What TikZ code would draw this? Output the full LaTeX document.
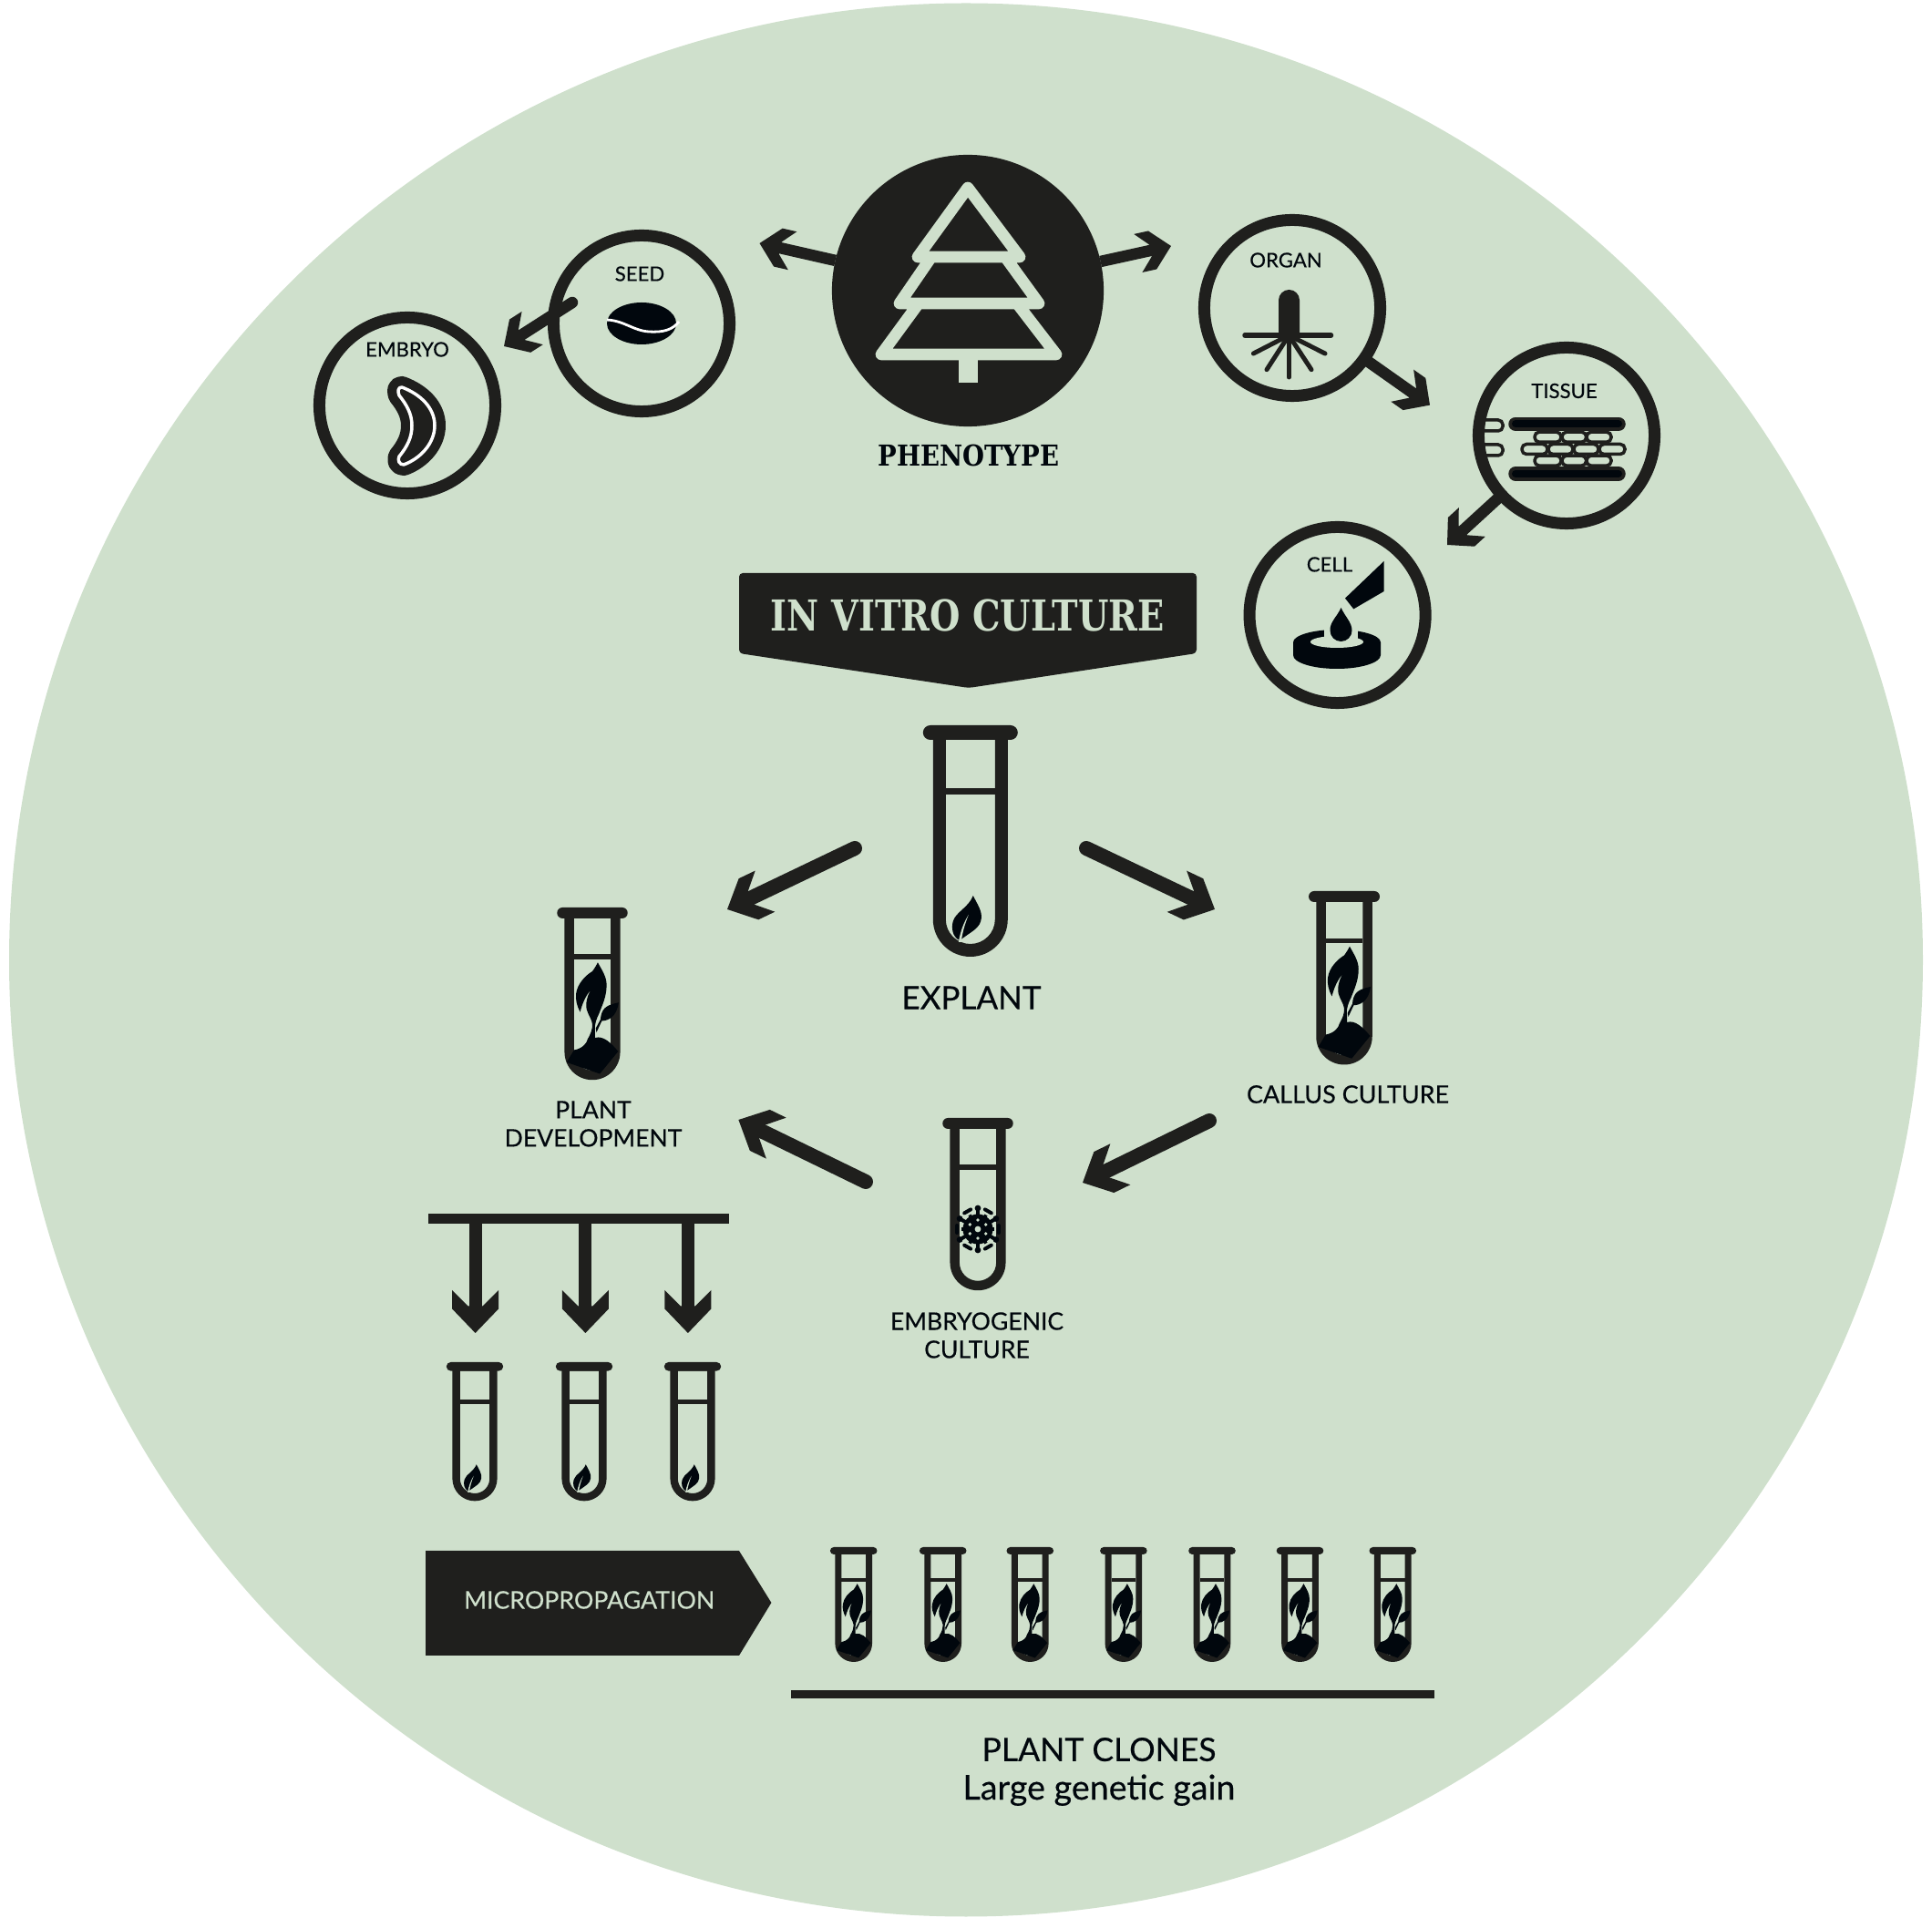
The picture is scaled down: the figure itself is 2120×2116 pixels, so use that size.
\documentclass[tikz,border=0pt]{standalone}
\usepackage{fontspec}
\setmainfont{Lato}[RawFeature={embolden=0.35}]
\newfontfamily\slabfont{DejaVu Serif}
\usetikzlibrary{arrows.meta,positioning,calc}
\definecolor{sage}{HTML}{CFE0CC}
\definecolor{ink}{HTML}{1F1F1D}
\definecolor{glyph}{HTML}{01070D}

% barbed head with cut ends
\pgfdeclarearrow{
	name=CutBarb,
	setup code={
		\pgfarrowssettipend{0pt}
		\pgfarrowssetlineend{-0.55\pgfarrowlength}
		\pgfarrowssetvisualbackend{-\pgfarrowlength}
		\pgfarrowssetbackend{-\pgfarrowlength}
		\pgfarrowshullpoint{0pt}{0pt}
		\pgfarrowsupperhullpoint{-\pgfarrowlength}{0.5\pgfarrowwidth}
		\pgfarrowssavethe\pgfarrowlength
		\pgfarrowssavethe\pgfarrowwidth
	},
	drawing code={
		\pgfpathmoveto{\pgfpointorigin}
		\pgfpathlineto{\pgfqpoint{-0.565\pgfarrowlength}{0.5\pgfarrowwidth}}
		\pgfpathlineto{\pgfqpoint{-\pgfarrowlength}{0.5\pgfarrowwidth}}
		\pgfpathlineto{\pgfqpoint{-0.63\pgfarrowlength}{0.16\pgfarrowwidth}}
		\pgfpathlineto{\pgfqpoint{-0.63\pgfarrowlength}{-0.16\pgfarrowwidth}}
		\pgfpathlineto{\pgfqpoint{-\pgfarrowlength}{-0.5\pgfarrowwidth}}
		\pgfpathlineto{\pgfqpoint{-0.565\pgfarrowlength}{-0.5\pgfarrowwidth}}
		\pgfpathclose
		\pgfusepathqfill
	},
	parameters={\the\pgfarrowlength,\the\pgfarrowwidth},
	defaults={length=0.46cm,width=0.5cm}
}

\begin{document}
\begin{tikzpicture}[x=0.01cm,y=-0.01cm,
		lab/.style={font=\fontsize{6.3}{8}\selectfont,text=glyph,inner sep=0pt},
		midlab/.style={font=\fontsize{7.55}{8.8}\selectfont,text=glyph,inner sep=0pt,align=center},
		ring/.style={circle,draw=ink,line width=0.13cm,minimum size=1.93cm,inner sep=0pt,outer sep=0pt},
		arr/.style={-{CutBarb[length=0.37cm,width=0.43cm]},draw=ink,line width=0.125cm},
		bigarr/.style={-{CutBarb[length=0.46cm,width=0.5cm]},draw=ink,line width=0.16cm,line cap=round},
		droparr/.style={-{CutBarb[length=0.47cm,width=0.51cm]},draw=ink,line width=0.14cm},
		leaf/.pic={
			\fill[glyph] (3,187) .. controls (8,197) and (13,204) .. (12,212)
			.. controls (11,222) and (2,226) .. (-6,232) -- (-12,236)
			.. controls (-20,232) and (-21,222) .. (-19,215)
			.. controls (-16,205) and (-2,200) .. (3,187) -- cycle;
			\fill[sage] (-13,238) .. controls (-11,226) and (-7,216) .. (-2,208)
			.. controls (-6,218) and (-9,228) .. (-10,238) -- cycle;
		},
		sprout/.pic={
			\fill[glyph] (8,81) .. controls (14,92) and (21,102) .. (21,114)
			.. controls (21,132) and (14,145) .. (10,156)
			.. controls (6,164) and (3,172) .. (4,180) -- (4,192)
			.. controls (16,188) and (28,200) .. (38,212) -- (11,245) -- (-38,228) -- (-27,210)
			.. controls (-15,208) and (-8,200) .. (-7,194)
			.. controls (-2,185) and (0,180) .. (0,172)
			.. controls (-2,160) and (-10,155) .. (-9,142)
			.. controls (-8,132) and (-5,126) .. (-2,121)
			.. controls (-10,130) and (-15,142) .. (-18,154)
			.. controls (-23,145) and (-25,135) .. (-24,127)
			.. controls (-22,112) and (-10,100) .. (0,94)
			.. controls (3,90) and (6,85) .. (8,81) -- cycle;
			\fill[glyph] (38.7,140) .. controls (30,142) and (18,144) .. (14,155)
			.. controls (13,158) and (12,162) .. (12,165) -- (5,178) -- (6,184) -- (14,167)
			.. controls (22,167) and (36,162) .. (38.7,140) -- cycle;
		},
		tube/.pic={
			\fill[ink] (-44,0) -- (44,0) arc (-90:90:8) -- (-44,16) arc (90:270:8) -- cycle;
			\fill[ink,even odd rule] (-41,14) -- (-41,213) arc (180:0:41) -- (41,14) -- cycle
			(-27,16) -- (-27,213) arc (180:0:27) -- (27,16) -- cycle;
			\fill[ink] (-27,69) rectangle (27,76);
		}
		]
		\useasboundingbox (0,0) rectangle (2120,2116);
		
		% --- Background disc
		\fill[sage] (1060,1053.5) circle (1050);
		
		% --- Phenotype and tree
		\node[circle,fill=ink,minimum size=2.98cm,inner sep=0pt,outer sep=0pt] (pheno) at (1062,319) {};
		\draw[sage,line width=0.127cm,line join=round,line cap=round]
		(1062,206) -- (1007,282) -- (1119,282) -- cycle
		(1022,282) -- (987,333) -- (1140,333) -- (1103,282)
		(1008,333) -- (967,389) -- (1159,389) -- (1116,333);
		\fill[sage] (1052.3,392) rectangle (1073,420);
		\node[font=\slabfont\bfseries\fontsize{9}{11}\selectfont,text=glyph,xscale=0.87,inner sep=0pt] (phenolab) at (1062.7,500) {PHENOTYPE};
		
		% --- Sample circles
		\node[ring] (seed) at (704,355) {};
		\node[ring] (embryo) at (447,445) {};
		\node[ring] (organ) at (1418,338) {};
		\node[ring] (tissue) at (1719,478) {};
		\node[ring] (cell) at (1467.6,675) {};
		\node[lab] (seedlab) at (702,300.5) {SEED};
		\node[lab] (embryolab) at (447,383.5) {EMBRYO};
		\node[lab] (organlab) at (1411,285.5) {ORGAN};
		\node[lab] (tissuelab) at (1716.5,429) {TISSUE};
		\node[lab] (celllab) at (1459,619.5) {CELL};
		
		% --- Seed glyph
		\fill[glyph] (704,355) ellipse (38 and 23);
		\draw[white,line width=0.028cm] (666,351) .. controls (685,352) and (695,363) .. (712,364) .. controls (728,365) and (738,362) .. (745,353);
		
		% --- Embryo glyph
		\draw[ink,fill=ink,line width=0.24cm,line join=round]
		(441,425) .. controls (462,433) and (477,448) .. (477,467)
		.. controls (477,486) and (462,503) .. (443,510)
		.. controls (438,510) and (436,505) .. (438,501)
		.. controls (447,490) and (452,480) .. (452,467)
		.. controls (452,454) and (446,444) .. (438,434)
		.. controls (436,429) and (437,425) .. (441,425) -- cycle;
		\draw[white,fill=ink,line width=0.035cm,line join=round]
		(441,425) .. controls (462,433) and (477,448) .. (477,467)
		.. controls (477,486) and (462,503) .. (443,510)
		.. controls (438,510) and (436,505) .. (438,501)
		.. controls (447,490) and (452,480) .. (452,467)
		.. controls (452,454) and (446,444) .. (438,434)
		.. controls (436,429) and (437,425) .. (441,425) -- cycle;
		
		% --- Organ glyph
		\fill[ink] (1403,368) -- (1403,329.5) arc (180:360:11.5) -- (1426,368) -- cycle;
		\draw[ink,line width=0.055cm,line cap=round] (1366,368) -- (1460.5,368);
		\foreach \rx/\ry in {1414.3/414,1390/405.7,1439/405.7,1375.4/388,1454/388}
		\draw[ink,line width=0.05cm,line cap=round] (1414.3,368) -- (\rx,\ry);
		
		% --- Tissue glyph
		\foreach \y in {465.3,520}{
			\draw[ink,line width=0.155cm,line cap=round] (1663,\y) -- (1776,\y);
			\draw[glyph,line width=0.08cm,line cap=round] (1663,\y) -- (1776,\y);
		}
		\foreach \y in {479.7,505.6}
		\foreach \a/\b in {1684/1713,1714/1740.6,1741/1768}
		\draw[ink,line width=0.035cm,rounded corners=0.05cm] (\a,\y-5.5) rectangle (\b,\y+5.5);
		\foreach \a/\b in {1670/1698,1699/1726,1727/1754,1755/1783}
		\draw[ink,line width=0.035cm,rounded corners=0.05cm] (\a,487.5) rectangle (\b,498.5);
		\foreach \y in {467,494}
		\draw[ink,line width=0.035cm,rounded corners=0.05cm] (1625,\y-6) -- (1649,\y-6) -- (1649,\y+6) -- (1625,\y+6);
		
		% --- Cell glyph
		\fill[glyph] (1518.6,615.9) -- (1518.6,649) -- (1485.3,668.4) -- (1476,656.6) -- cycle;
		\fill[glyph] (1419,705) arc[start angle=180,end angle=360,x radius=48,y radius=14]
		-- (1515,719) arc[start angle=0,end angle=180,x radius=48,y radius=15] -- cycle;
		\fill[sage] (1453,685) rectangle (1490,705);
		\fill[sage] (1467,704.5) ellipse (29 and 6.5);
		\fill[glyph] (1471.6,667) .. controls (1476,677) and (1483.5,683) .. (1483.5,692)
		arc (0:180:12) .. controls (1459,683) and (1467,677) .. (1471.6,667) -- cycle;
		
		% --- Links between the samples
		\coordinate (pheleft) at (833.5,267);
		\coordinate (pheright) at (1285,270);
		\coordinate (seedtail) at (628,332);
		\coordinate (embryotip) at (553,380);
		\coordinate (tissuetip) at (1569,444.6);
		\coordinate (celltip) at (1588,598);
		\draw[arr] (pheno) -- (pheleft);
		\draw[arr] (pheno) -- (pheright);
		\draw[arr,line cap=round] (seedtail) -- (embryotip);
		\draw[arr] (organ) -- (tissuetip);
		\draw[arr] (tissue) -- (celltip);
		
		% --- In vitro banner
		\fill[ink,rounded corners=0.04cm] (811,629) -- (1313,629) -- (1313,717) -- (1063,755) -- (811,717) -- cycle;
		\node[font=\slabfont\bfseries\fontsize{13.3}{16}\selectfont,text=sage,xscale=0.82,inner sep=0pt] (vitro) at (1062,675) {IN VITRO CULTURE};
		
		% --- Tubes of the culture cycle
		\pic[scale=1] at (1064.8,796) {tube};
		\pic[scale=1] at (1064.8,796) {leaf};
		\node[font=\fontsize{9.95}{12}\selectfont,text=glyph,inner sep=0pt] (explant) at (1066,1095) {EXPLANT};
		
		\pic[scale=0.745] at (650,996) {tube};
		\pic[scale=0.745] at (650,996) {sprout};
		\node[midlab] (plantdev) at (651,1233.5) {PLANT\\DEVELOPMENT};
		
		\pic[scale=0.75] at (1475,978) {tube};
		\pic[scale=0.75] at (1475,978) {sprout};
		\node[midlab,font=\fontsize{7.67}{8.8}\selectfont] (callus) at (1479,1201) {CALLUS CULTURE};
		
		\pic[scale=0.745] at (1073,1227) {tube};
		\begin{scope}[shift={(1073,1349)}]
			\foreach \a in {30,90,...,330}{
				\draw[glyph,line width=0.04cm] (0,0) -- (\a:23);
				\fill[glyph] (\a:23) circle (3.4);
			}
			\foreach \a in {0,60,...,300}{
				\draw[glyph,line width=0.035cm] (0,0) -- (\a:18);
				\draw[glyph,line width=0.04cm,line cap=round] (\a-10:23) -- (\a+10:23);
			}
			\fill[glyph] (0,0) circle (16.5);
			\fill[sage] (0,0) circle (3.4);
			\foreach \a in {30,90,...,330}
			\fill[sage] (\a:10) circle (1.9);
		\end{scope}
		\node[midlab] (embryoculture) at (1072,1465.5) {EMBRYOGENIC\\CULTURE};
		
		\coordinate (exptailleft) at (938,931);
		\coordinate (exptipleft) at (798,998);
		\coordinate (exptailright) at (1192,931);
		\coordinate (exptipright) at (1333,998);
		\coordinate (calltail) at (1327,1230);
		\coordinate (calltip) at (1188,1298);
		\coordinate (embtail) at (950,1297);
		\coordinate (embtip) at (810.4,1229);
		\draw[bigarr] (exptailleft) -- (exptipleft);
		\draw[bigarr] (exptailright) -- (exptipright);
		\draw[bigarr] (calltail) -- (calltip);
		\draw[bigarr] (embtail) -- (embtip);
		
		% --- Splitting into three tubes
		\fill[ink] (470,1332) rectangle (800,1342.7);
		\foreach \i/\ax/\tx in {1/521.6/521,2/642.4/641,3/754.9/760}{
			\coordinate (splittop\i) at (\ax,1338);
			\coordinate (splittip\i) at (\ax,1463);
			\draw[droparr] (splittop\i) -- (splittip\i);
			\pic[scale=0.6] at (\tx,1495) {tube};
			\pic[scale=0.6] at (\tx,1495) {leaf};
		}
		
		% --- Micropropagation
		\fill[ink] (467,1702) -- (811,1702) -- (846.4,1759) -- (811,1817) -- (467,1817) -- cycle;
		\node[font=\fontsize{7.6}{9}\selectfont,text=sage,inner sep=0pt] (micro) at (646.7,1756) {MICROPROPAGATION};
		\foreach \x in {936.7,1034.7,1130.3,1232.9,1330,1426.5,1528.3}{
			\pic[scale=0.496] at (\x,1698) {tube};
			\pic[scale=0.496] at (\x,1698) {sprout};
		}
		\fill[ink] (868,1855) rectangle (1573.5,1863.7);
		\node[font=\fontsize{10.1}{12}\selectfont,text=glyph,inner sep=0pt,align=center] (clones) at (1206,1944.5) {PLANT CLONES\\{\fontsize{10.7}{12}\selectfont Large genetic gain}};
		
	\end{tikzpicture}
\end{document}
